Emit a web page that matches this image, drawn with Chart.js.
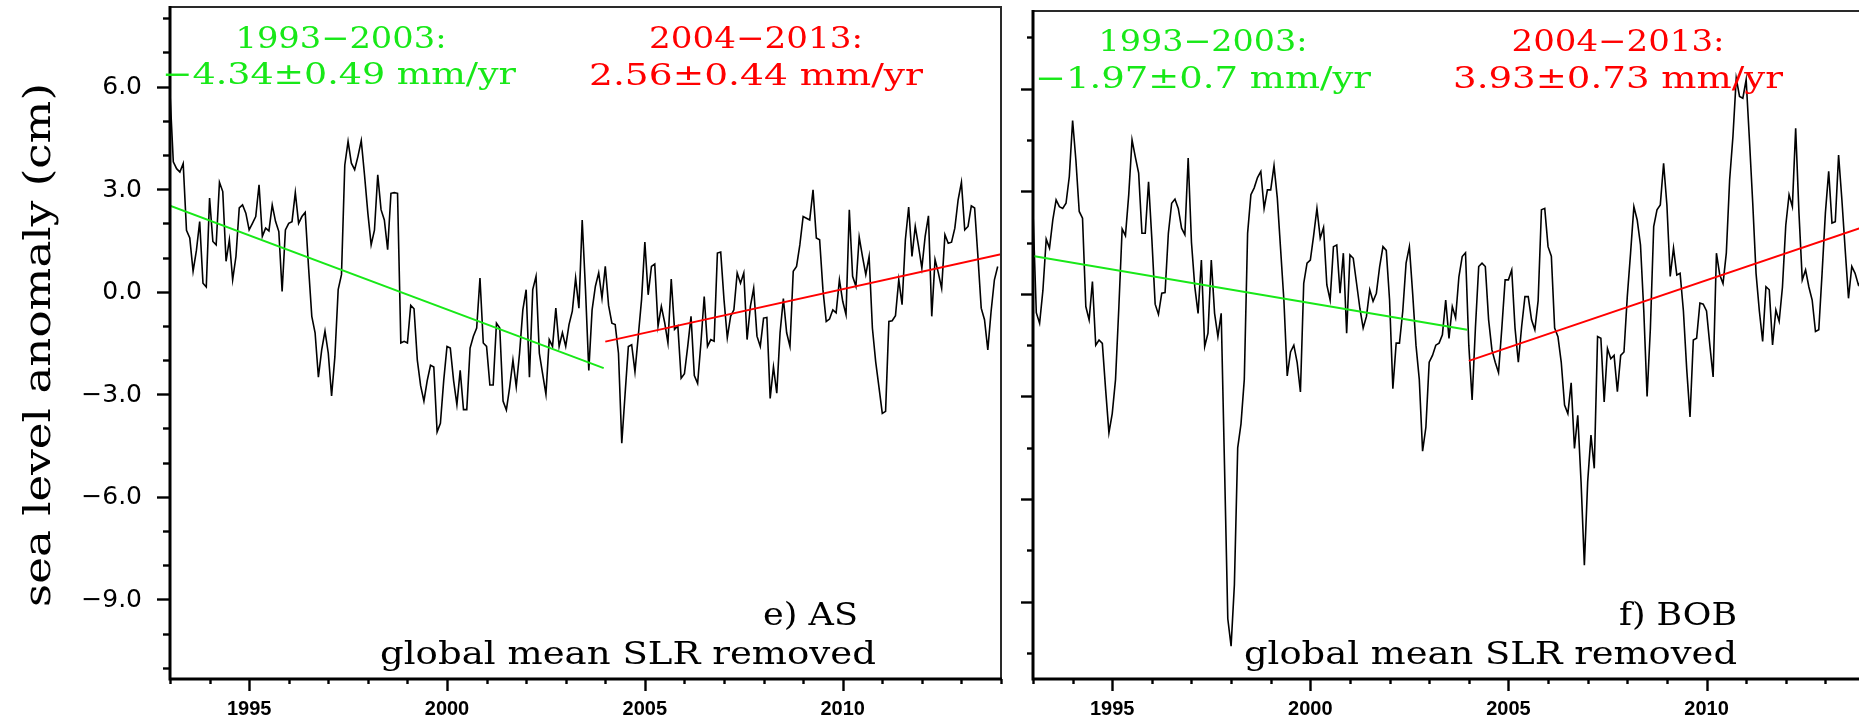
<!DOCTYPE html>
<html>
<head>
<meta charset="utf-8">
<title>Sea level anomaly, AS and BOB</title>
<script src="https://cdn.jsdelivr.net/npm/chart.js@4.4.1/dist/chart.umd.min.js"></script>
<style>
  html, body { margin: 0; padding: 0; background: #fff; width: 1859px; height: 724px; overflow: hidden; }
  #wrap { position: relative; width: 1859px; height: 724px; overflow: hidden; }
  .panel { position: absolute; top: 0; }
</style>
</head>
<body>
<div id="wrap">
  <canvas id="cAS" class="panel" style="left:0px" width="1016" height="724"></canvas>
  <canvas id="cBOB" class="panel" style="left:1020px" width="860" height="724"></canvas>
</div>
<script>
// Monthly series start in January of this year, one value per month through Dec 2013
const startYear = 1993;

// Arabian Sea, sea level anomaly (cm), global mean SLR removed
const asAnomaly = [
  5.8, 3.8, 3.6, 3.5, 3.75, 1.8, 1.57, 0.6, 1.2, 2.05, 0.25, 0.14,
  2.74, 1.47, 1.37, 3.2, 2.93, 0.89, 1.52, 0.35, 1.03, 2.45, 2.54, 2.3,
  1.81, 2.0, 2.2, 3.13, 1.62, 1.86, 1.78, 2.54, 2.06, 1.76, 0.01, 1.81,
  2.0, 2.05, 2.9, 2.0, 2.2, 2.32, 0.74, -0.72, -1.2, -2.5, -1.7, -1.15,
  -1.8, -3.05, -1.9, 0.06, 0.5, 3.7, 4.4, 3.76, 3.57, 3.96, 4.42, 3.4,
  2.3, 1.37, 1.8, 3.42, 2.4, 2.1, 1.23, 2.88, 2.9, 2.88, -1.5, -1.45,
  -1.5, -0.4, -0.5, -2.0, -2.75, -3.2, -2.6, -2.15, -2.2, -4.1, -3.85, -2.6,
  -1.6, -1.65, -2.6, -3.3, -2.3, -3.45, -3.45, -1.65, -1.3, -1.06, 0.4, -1.5,
  -1.6, -2.73, -2.73, -0.92, -1.06, -3.2, -3.46, -2.8, -2.0, -2.78, -1.8, -0.53,
  0.06, -2.5, 0.06, 0.45, -1.8, -2.4, -3.0, -1.4, -1.6, -0.48, -1.6, -1.2,
  -1.6, -0.96, -0.57, 0.4, -0.48, 2.1, 0.06, -2.3, -0.53, 0.16, 0.55, -0.19,
  0.74, -0.4, -0.92, -0.96, -1.8, -4.43, -3.0, -1.6, -1.55, -2.34, -1.3, -0.23,
  1.45, -0.09, 0.74, 0.81, -1.01, -0.43, -0.9, -1.5, 0.37, -1.1, -1.0, -2.53,
  -2.4, -1.6, -0.72, -2.45, -2.68, -1.5, -0.14, -1.6, -1.4, -1.45, 1.13, 1.16,
  -0.23, -1.35, -0.72, -0.53, 0.55, 0.25, 0.55, -1.4, -0.43, 0.1, -1.3, -1.6,
  -0.77, -0.75, -3.12, -2.2, -2.97, -1.2, -0.2, -1.2, -1.6, 0.6, 0.74, 1.37,
  2.2, 2.15, 2.1, 2.98, 1.57, 1.52, 0.06, -0.87, -0.8, -0.53, -0.62, 0.35,
  -0.28, -0.67, 2.4, 0.45, 0.16, 1.6, 1.03, 0.5, 1.03, -1.06, -2.05, -2.8,
  -3.56, -3.5, -0.87, -0.85, -0.7, 0.35, -0.38, 1.52, 2.48, 1.03, 1.91, 1.33,
  0.69, 1.62, 2.22, -0.72, 0.94, 0.55, 0.1, 1.67, 1.42, 1.45, 1.86, 2.69,
  3.2, 1.81, 1.91, 2.51, 2.45, 1.03, -0.48, -0.82, -1.7, -0.57, 0.35, 0.74
];

// Bay of Bengal, sea level anomaly (cm), global mean SLR removed
const bobAnomaly = [
  2.41, -0.55, -0.86, 0.1, 1.6, 1.34, 2.16, 2.75, 2.55, 2.5, 2.65, 3.43,
  5.07, 3.9, 2.41, 2.21, -0.37, -0.76, 0.36, -1.5, -1.35, -1.45, -2.8, -4.06,
  -3.5, -2.5, -0.4, 1.9, 1.7, 2.9, 4.5, 4.0, 3.53, 1.77, 1.77, 3.28,
  1.6, -0.3, -0.6, 0.02, 0.04, 1.77, 2.65, 2.77, 2.5, 1.92, 1.73, 3.97,
  1.5, 0.21, -0.57, 0.99, -1.54, -1.15, 0.99, -0.57, -1.25, -0.57, -5.0, -9.5,
  -10.3, -8.5, -4.5, -3.8, -2.5, 1.77, 2.9, 3.1, 3.4, 3.58, 2.5, 3.04,
  3.04, 3.75, 2.8, 1.3, -0.2, -2.4, -1.7, -1.5, -2.0, -2.87, 0.31, 0.9,
  0.99, 1.7, 2.5, 1.63, 1.94, 0.26, -0.18, 1.38, 1.43, 0.02, 1.19, -1.15,
  1.14, 1.04, 0.31, -0.42, -1.0, -0.66, 0.12, -0.22, 0.02, 0.8, 1.38, 1.27,
  -0.18, -2.77, -1.44, -1.44, -0.5, 0.9, 1.38, 0.0, -1.5, -2.5, -4.6, -3.9,
  -2.0, -1.8, -1.5, -1.44, -1.2, -0.18, -1.3, -0.37, -0.7, 0.5, 1.09, 1.2,
  -1.5, -3.1, -1.0, 0.8, 0.9, 0.8, -0.76, -1.64, -2.0, -2.3, -1.0, 0.41,
  0.41, 0.7, -1.0, -2.0, -0.96, -0.08, -0.08, -0.76, -1.05, -0.2, 2.46, 2.5,
  1.38, 1.1, -1.0, -1.25, -2.0, -3.25, -3.5, -2.6, -4.52, -3.55, -5.5, -7.93,
  -5.5, -4.13, -5.1, -1.25, -1.3, -3.16, -1.6, -1.9, -1.8, -2.86, -1.8, -1.7,
  -0.08, 1.2, 2.55, 2.16, 1.43, -0.5, -3.0, -1.0, 1.97, 2.46, 2.6, 3.82,
  2.6, 0.51, 1.34, 0.55, 0.6, -0.5, -2.2, -3.6, -1.35, -1.3, -0.27, -0.3,
  -0.5, -1.5, -2.43, 1.19, 0.56, 0.3, 1.2, 3.33, 4.6, 6.3, 5.77, 5.72,
  6.26, 4.5, 2.65, 0.6, -0.5, -1.39, 0.21, 0.12, -1.49, -0.47, -0.8, 0.2,
  2.0, 2.9, 2.55, 4.84, 2.36, 0.41, 0.7, 0.2, -0.18, -1.1, -1.05, 0.6,
  2.36, 3.58, 2.07, 2.11, 4.06, 2.75, 1.29, -0.13, 0.8, 0.6, 0.26, 0.4
];

// Two fit periods (years named in the labels) and the time span each fitted line covers
const periods = [[1993, 2003], [2004, 2013]];
const trendSpans = [[1993.0, 2003.96], [2004.0, 2014.0]];

// Linear trend rates (mm/yr), their uncertainty, and the fitted level (cm) at the start of each span
const asRates = [-4.34, 2.56];
const asRateErr = [0.49, 0.44];
const asTrendStart = [2.52, -1.46];
const bobRates = [-1.97, 3.93];
const bobRateErr = [0.7, 0.73];
const bobTrendStart = [1.11, -1.96];

// Axis ticks
const xLabelYears = [1995, 2000, 2005, 2010];
const yLabelValues = [-9, -6, -3, 0, 3, 6];

// Panel names
const panelNames = ['e) AS', 'f) BOB'];
const subtitle = 'global mean SLR removed';
const yTitle = 'sea level anomaly (cm)';

// ---------------------------------------------------------------------------

const MINUS = '\u2212';
const GREEN = 'rgb(24,232,24)';
const RED = 'rgb(255,0,0)';
const SERIF = '"DejaVu Serif", "Liberation Serif", serif';
const TICK_FONT = '25px "DejaVu Sans", sans-serif';

const periodLabel = p => `${p[0]}${MINUS}${p[1]}:`;
const rateLabel = (r, e) => `${r < 0 ? MINUS : ''}${Math.abs(r)}\u00b1${e} mm/yr`;
const fmtY = v => (v < 0 ? MINUS : '') + Math.abs(v).toFixed(1);

function seriesPoints(values) {
  return values.map((v, i) => ({ x: startYear + i / 12, y: v }));
}

function trendPoints(span, startLevel, rateMm) {
  const slope = rateMm / 10; // cm per year
  return [
    { x: span[0], y: startLevel },
    { x: span[1], y: startLevel + slope * (span[1] - span[0]) }
  ];
}

// Serif text squeezed/stretched to a fixed width
function drawFitted(ctx, t, offX) {
  ctx.save();
  ctx.font = `${t.size}px ${SERIF}`;
  ctx.fillStyle = t.color;
  ctx.textAlign = 'left';
  ctx.textBaseline = 'alphabetic';
  const natural = ctx.measureText(t.text).width;
  const sx = t.width / natural;
  if (t.rotate) {
    ctx.translate(t.x - offX, t.y);
    ctx.rotate(-Math.PI / 2);
    ctx.scale(sx, 1);
    ctx.fillText(t.text, -natural / 2, 0);
  } else {
    const left = t.align === 'center' ? t.x - t.width / 2 : (t.align === 'right' ? t.x - t.width : t.x);
    ctx.translate(left - offX, t.y);
    ctx.scale(sx, 1);
    ctx.fillText(t.text, 0, 0);
  }
  ctx.restore();
}

// Frame, tick marks, y tick labels and in-plot annotations
function decorPlugin(p) {
  return {
    id: 'decor' + p.key,
    afterDraw(chart) {
      const { ctx, chartArea: a, scales: { x, y } } = chart;
      ctx.save();
      ctx.strokeStyle = '#000';
      ctx.lineCap = 'butt';

      // y tick marks (outward)
      ctx.lineWidth = 2.4;
      const nY = Math.round((p.yTickTo - p.yTickFrom) / p.yTickStep);
      for (let k = 0; k <= nY; k++) {
        const v = p.yTickFrom + k * p.yTickStep;
        const py = Math.round(y.getPixelForValue(v)) + 0.5;
        const major = Math.abs(v / 3 - Math.round(v / 3)) < 1e-6;
        const len = major ? p.yMajorLen : p.yMinorLen;
        ctx.beginPath();
        ctx.moveTo(a.left - len, py);
        ctx.lineTo(a.left, py);
        ctx.stroke();
      }

      // y tick labels
      if (p.yLabels) {
        ctx.fillStyle = '#000';
        ctx.font = TICK_FONT;
        ctx.textAlign = 'right';
        ctx.textBaseline = 'middle';
        yLabelValues.forEach(v => {
          ctx.fillText(fmtY(v), a.left - 28, y.getPixelForValue(v) + 1);
        });
      }

      // x tick marks (outward), one per year
      for (let yr = startYear; yr <= 2014; yr++) {
        const px = Math.round(x.getPixelForValue(yr)) + 0.5;
        const len = yr % 5 === 0 ? 12 : 5;
        ctx.beginPath();
        ctx.moveTo(px, a.bottom);
        ctx.lineTo(px, a.bottom + len);
        ctx.stroke();
      }

      // frame: thin top/right, heavy left/bottom
      ctx.strokeStyle = '#2a2a2a';
      ctx.lineWidth = 2;
      ctx.beginPath();
      ctx.moveTo(a.left, a.top);
      ctx.lineTo(a.right, a.top);
      ctx.lineTo(a.right, a.bottom);
      ctx.stroke();
      ctx.strokeStyle = '#000';
      ctx.lineWidth = 3;
      ctx.beginPath();
      ctx.moveTo(a.left, a.top - 1);
      ctx.lineTo(a.left, a.bottom);
      ctx.lineTo(a.right + 1, a.bottom);
      ctx.stroke();
      ctx.restore();

      p.texts.forEach(t => drawFitted(ctx, t, p.offsetX));
    }
  };
}

function makePanel(p) {
  const ctx = document.getElementById(p.canvas).getContext('2d');
  const datasets = [
    {
      data: seriesPoints(p.values),
      borderColor: '#000',
      borderWidth: 1.6,
      pointRadius: 0,
      tension: 0,
      order: 3
    },
    {
      data: trendPoints(trendSpans[0], p.trendStart[0], p.rates[0]),
      borderColor: GREEN,
      borderWidth: 2,
      pointRadius: 0,
      order: 1
    },
    {
      data: trendPoints(trendSpans[1], p.trendStart[1], p.rates[1]),
      borderColor: RED,
      borderWidth: 2,
      pointRadius: 0,
      order: 1
    }
  ];

  const zeroPadding = s => { s.paddingTop = 0; s.paddingBottom = 0; s.paddingLeft = 0; s.paddingRight = 0; };

  return new Chart(ctx, {
    type: 'line',
    data: { datasets },
    options: {
      responsive: false,
      animation: false,
      events: [],
      parsing: false,
      layout: { padding: { left: 0, top: p.padTop, right: p.padRight, bottom: 0 } },
      plugins: { legend: { display: false }, tooltip: { enabled: false }, title: { display: false } },
      scales: {
        x: {
          type: 'linear',
          min: 1993,
          max: 2014,
          grid: { display: false, drawTicks: false },
          border: { display: false },
          afterBuildTicks: s => { s.ticks = xLabelYears.map(v => ({ value: v })); },
          afterFit: s => { s.height = 45; zeroPadding(s); },
          ticks: {
            autoSkip: false,
            maxRotation: 0,
            minRotation: 0,
            padding: 18,
            color: '#000',
            font: { family: '"Liberation Sans", Arial, sans-serif', size: 20, weight: 'bold' },
            callback: v => String(v)
          }
        },
        y: {
          type: 'linear',
          min: p.yMin,
          max: p.yMax,
          grid: { display: false, drawTicks: false },
          border: { display: false },
          afterBuildTicks: s => { s.ticks = yLabelValues.map(v => ({ value: v })); },
          afterFit: s => { s.width = p.yAxisWidth; zeroPadding(s); },
          ticks: { display: false }
        }
      }
    },
    plugins: [decorPlugin(p)]
  });
}

const ann = (text, x, y, width, color, size, align) => ({ text, x, y, width, color, size, align });

makePanel({
  key: 'AS',
  canvas: 'cAS',
  offsetX: 0,
  values: asAnomaly,
  rates: asRates,
  trendStart: asTrendStart,
  yMin: -11.33, yMax: 8.33,
  padTop: 7, padRight: 15,
  yAxisWidth: 170,
  yLabels: true,
  yTickFrom: -11, yTickTo: 8, yTickStep: 1,
  yMajorLen: 13, yMinorLen: 7,
  texts: [
    ann(periodLabel(periods[0]), 341, 48, 211, GREEN, 30, 'center'),
    ann(rateLabel(asRates[0], asRateErr[0]), 339, 84, 354, GREEN, 30, 'center'),
    ann(periodLabel(periods[1]), 756, 48, 214, RED, 30, 'center'),
    ann(rateLabel(asRates[1], asRateErr[1]), 756, 85, 334, RED, 30, 'center'),
    ann(panelNames[0], 858, 625, 95, '#000', 32, 'right'),
    ann(subtitle, 876, 664, 496, '#000', 32, 'right'),
    { text: yTitle, x: 50, y: 345, width: 524, color: '#000', size: 38, rotate: true }
  ]
});

makePanel({
  key: 'BOB',
  canvas: 'cBOB',
  offsetX: 1020,
  values: bobAnomaly,
  rates: bobRates,
  trendStart: bobTrendStart,
  yMin: -11.26, yMax: 8.27,
  padTop: 11, padRight: 15,
  yAxisWidth: 13,
  yLabels: false,
  yTickFrom: -10.5, yTickTo: 7.5, yTickStep: 1.5,
  yMajorLen: 12, yMinorLen: 6,
  texts: [
    ann(periodLabel(periods[0]), 1203, 51, 209, GREEN, 30, 'center'),
    ann(rateLabel(bobRates[0], bobRateErr[0]), 1203, 88, 336, GREEN, 30, 'center'),
    ann(periodLabel(periods[1]), 1618, 51, 213, RED, 30, 'center'),
    ann(rateLabel(bobRates[1], bobRateErr[1]), 1618, 88, 330, RED, 30, 'center'),
    ann(panelNames[1], 1737, 625, 118, '#000', 32, 'right'),
    ann(subtitle, 1737, 664, 493, '#000', 32, 'right')
  ]
});
</script>
</body>
</html>
